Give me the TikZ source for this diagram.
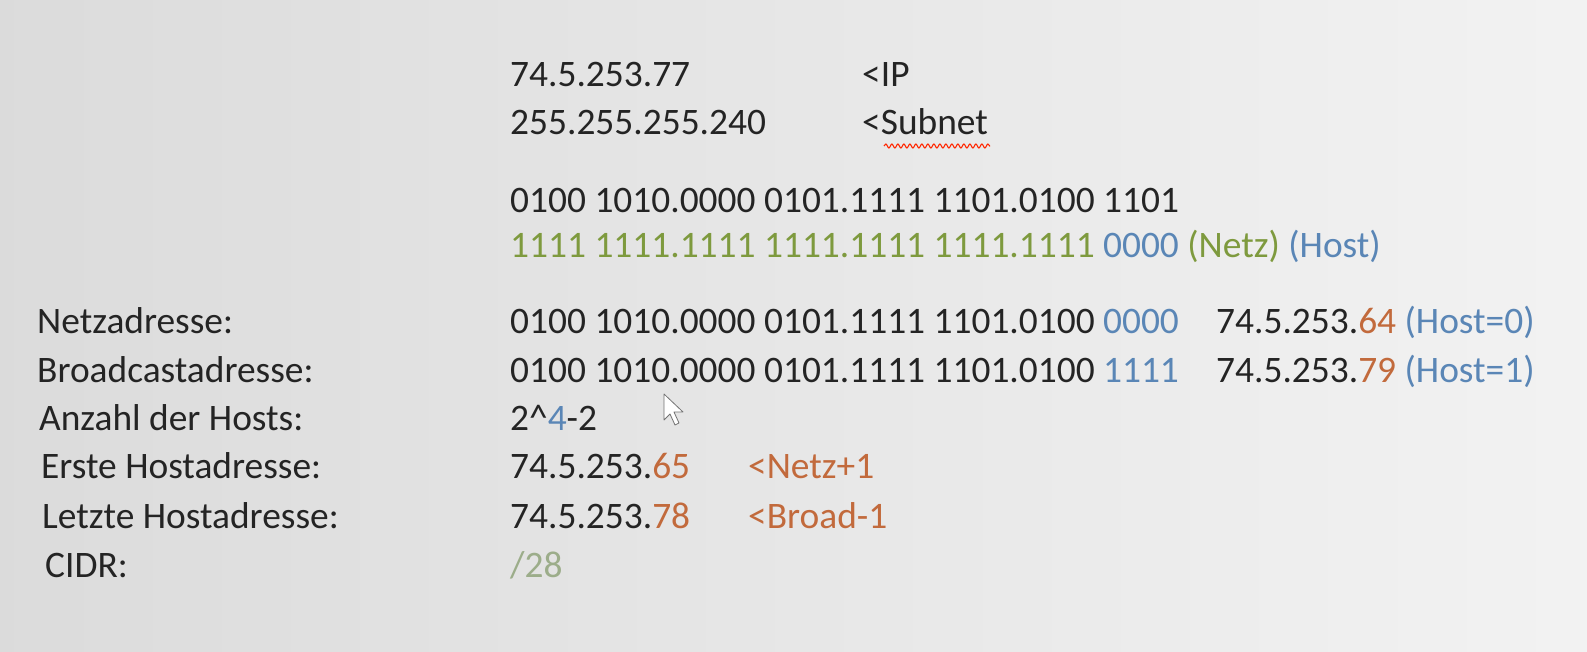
\documentclass[tikz,border=0pt]{standalone}
\usepackage{fontspec}
\setmainfont{Carlito}
\usepackage{xcolor}
\usepackage{tikz}
\usetikzlibrary{decorations.pathmorphing}

\definecolor{ink}{HTML}{242424}
\definecolor{netz}{HTML}{7E9A3E}
\definecolor{host}{HTML}{5A86B6}
\definecolor{okt}{HTML}{C26A3C}
\definecolor{cidr}{HTML}{9CAD8A}

\begin{document}
\begin{tikzpicture}[x=1pt, y=-1pt]
      \tikzstyle{txt} = [anchor=base west, inner sep=0pt, text=ink, font=\fontsize{37.4}{44}\selectfont]
      \tikzstyle{wave} = [draw=red!70!orange, line width=1.1pt, decorate, decoration={snake, amplitude=2pt, segment length=6pt}]
      \shade[left color=black!14, right color=black!5] (0,0) rectangle (1587,651);
      \useasboundingbox (0,0) rectangle (1587,651);
      % IP und Maske
      \node[txt] (ip) at (510,86) {74.5.253.77};
      \node[txt] (iptag) at (862,86) {<IP};
      \node[txt] (mask) at (510,134) {255.255.255.240};
      \node[txt] (masktag) at (862,134) {<Subnet};
      \coordinate (wa) at (884,146);
      \coordinate (wb) at (990,146);
      \draw[wave] (wa) -- (wb);
      % binaer
      \node[txt] (ipbin) at (510,212) {0100 1010.0000 0101.1111 1101.0100 1101};
      \node[txt] (maskbin) at (510,257) {\textcolor{netz}{1111 1111.1111 1111.1111 1111.1111} \textcolor{host}{0000} \textcolor{netz}{(Netz)} \textcolor{host}{(Host)}};
      % Ergebnisse
      \node[txt] (lnetz) at (37,333) {Netzadresse:};
      \node[txt] (lbroad) at (37,382) {Broadcastadresse:};
      \node[txt] (lanz) at (39,430) {Anzahl der Hosts:};
      \node[txt] (lerst) at (41,478) {Erste Hostadresse:};
      \node[txt] (lletzt) at (42,528) {Letzte Hostadresse:};
      \node[txt] (lcidr) at (45,577) {CIDR:};
      \node[txt] (netzbin) at (510,333) {0100 1010.0000 0101.1111 1101.0100 \textcolor{host}{0000}};
      \node[txt] (broadbin) at (510,382) {0100 1010.0000 0101.1111 1101.0100 \textcolor{host}{1111}};
      \node[txt] (netzdez) at (1216,333) {74.5.253.\textcolor{okt}{64} \textcolor{host}{(Host=0)}};
      \node[txt] (broaddez) at (1216,382) {74.5.253.\textcolor{okt}{79} \textcolor{host}{(Host=1)}};
      \node[txt] (anz) at (510,430) {2\^{}\textcolor{host}{4}-2};
      \node[txt] (erst) at (510,478) {74.5.253.\textcolor{okt}{65}};
      \node[txt, text=okt] (ersttag) at (748,478) {<Netz+1};
      \node[txt] (letzt) at (510,528) {74.5.253.\textcolor{okt}{78}};
      \node[txt, text=okt] (letzttag) at (748,528) {<Broad-1};
      \node[txt, text=cidr] (cidr) at (510,577) {/28};
      % Mauszeiger
      \draw[black!55, fill=white, line join=round, thick] (664,394) -- (664,420) -- (670,414) -- (675,425) -- (679,423) -- (674,412) -- (683,412) -- cycle;
    \end{tikzpicture}
\end{document}
